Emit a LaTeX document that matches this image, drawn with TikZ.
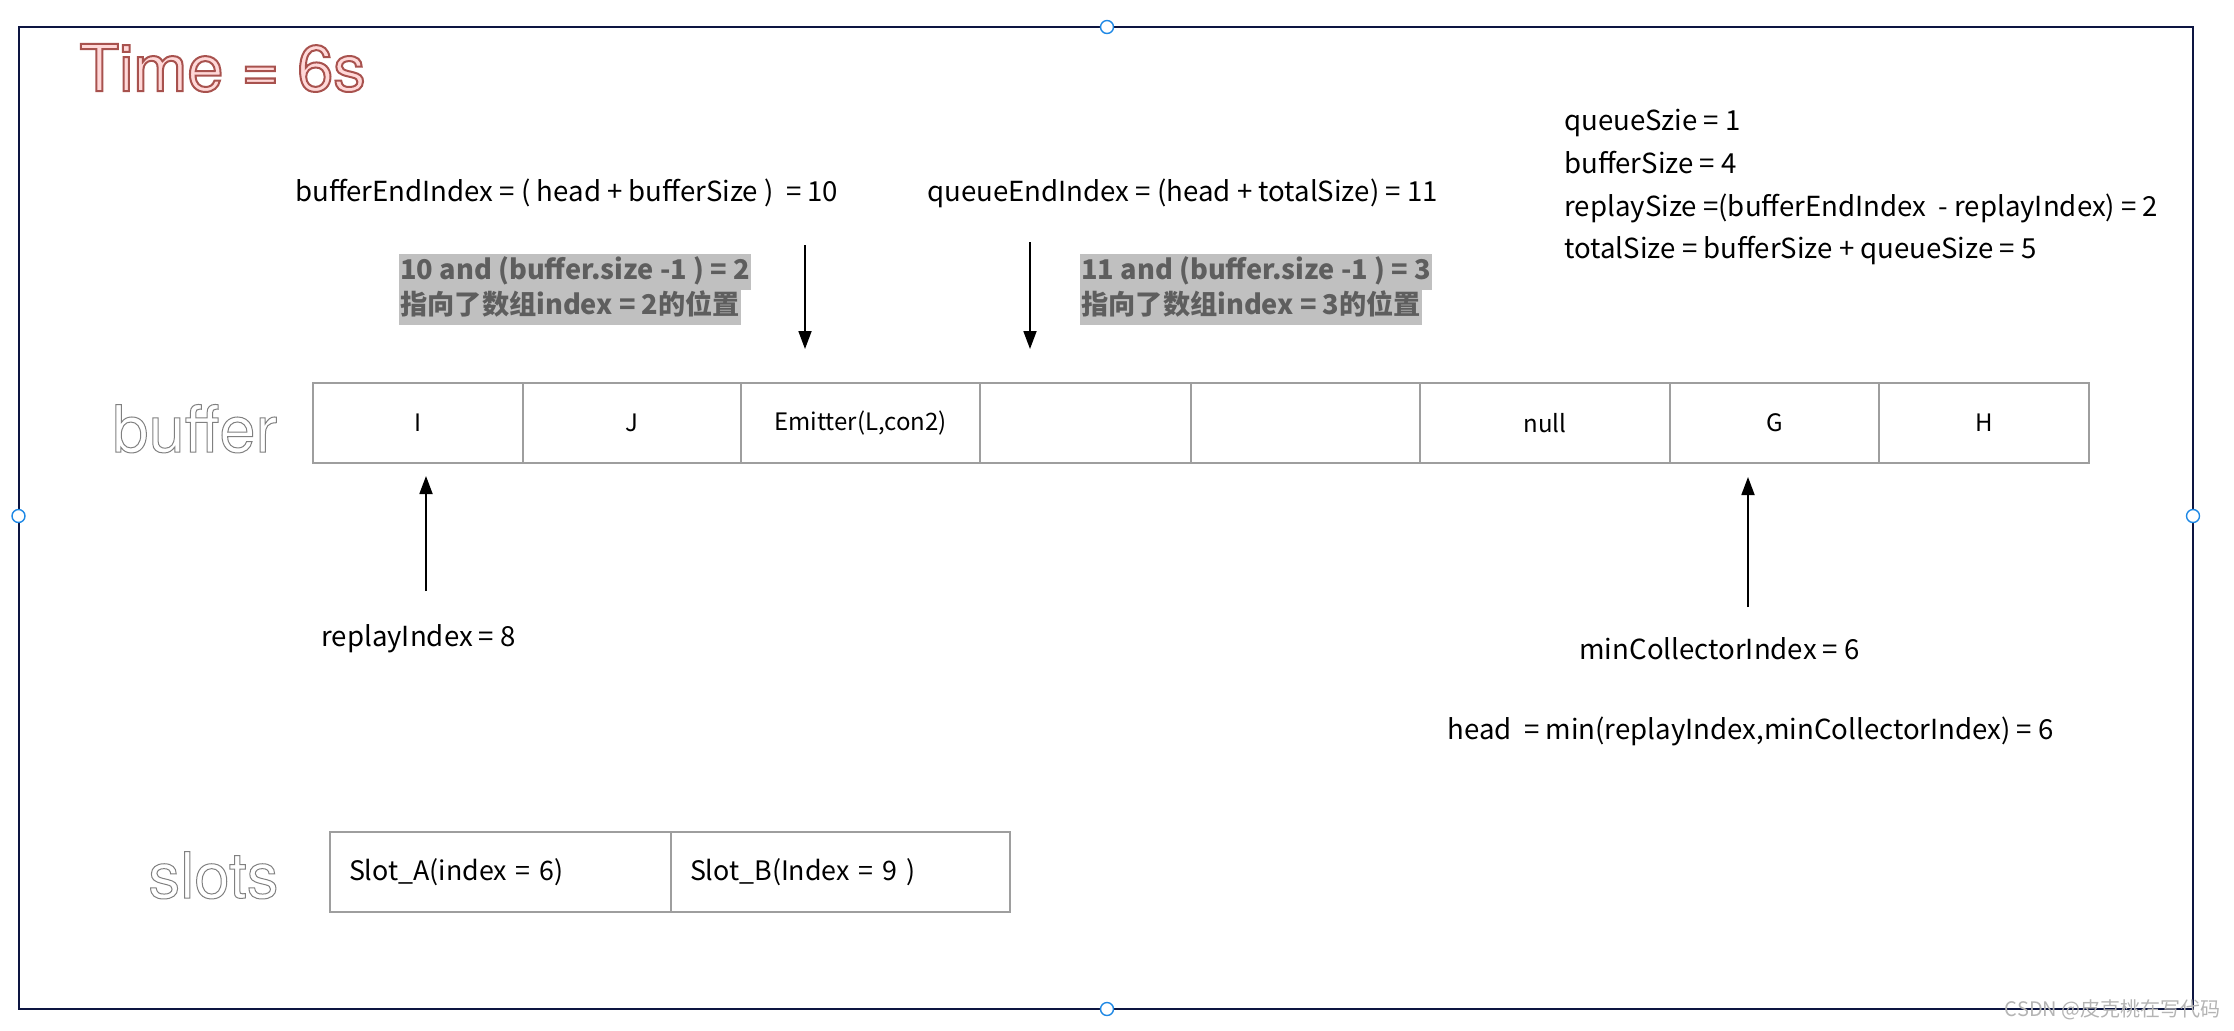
\documentclass[tikz,border=0pt]{standalone}
\usepackage{fontspec}
\setmainfont{Noto Sans CJK SC}
\newfontfamily\helv{TeX Gyre Heros}
\usetikzlibrary{arrows.meta}
\definecolor{frameblue}{HTML}{0D1541}
\definecolor{cellgray}{HTML}{9E9E9E}
\definecolor{hlgray}{HTML}{C0C0C0}
\definecolor{hltext}{HTML}{5E5E5E}
\definecolor{timefill}{HTML}{FFD8D8}
\definecolor{handle}{HTML}{1E88E5}
\definecolor{wmgray}{HTML}{B4B4B4}
\newcommand\olred[1]{{\color{timefill}\special{pdf:literal 2 Tr 1 w 0.659 0.322 0.306 RG}#1\special{pdf:literal 0 Tr}}}
\newcommand\olgray[1]{{\special{pdf:literal 1 Tr 0.5 w 0.5 0.5 0.5 RG}#1\special{pdf:literal 0 Tr}}}
\begin{document}
\begin{tikzpicture}[x=0.5pt,y=-0.5pt,
  lbl/.style={font=\fontsize{13.8}{17}\selectfont, inner sep=0pt, anchor=mid west},
  cell/.style={draw=cellgray, line width=0.6pt, minimum height=40pt, inner sep=0pt, font=\fontsize{12}{15}\selectfont},
  slotcell/.style={cell, font=\fontsize{13.4}{16}\selectfont, inner xsep=9.5pt, align=left},
  hl/.style={fill=hlgray, text=hltext, font=\bfseries\fontsize{13.6}{17}\selectfont, inner xsep=0.5pt, inner ysep=0pt, anchor=north west, text height=12.5pt, text depth=5.25pt},
  arr/.style={-{Triangle[length=9pt,width=6.5pt]}, line width=0.9pt},
  hnd/.style={circle, draw=handle, fill=white, line width=0.7pt, minimum size=6.5pt, inner sep=0pt}]
\useasboundingbox (0,0) rectangle (2234,1030);
\draw[frameblue, line width=1pt] (18.5,27) rectangle (2193,1009);

% buffer cells
\node[cell, minimum width=105pt]   (c1) at (418,423) {I};
\node[cell, minimum width=109pt]   (c2) at (632,423) {J};
\node[cell, minimum width=119.5pt] (c3) at (860.5,423) {Emitter(L,con2)};
\node[cell, minimum width=105.5pt] (c4) at (1085.5,423) {};
\node[cell, minimum width=114.5pt] (c5) at (1305.5,423) {};
\node[cell, minimum width=125pt]   (c6) at (1545,423) {null};
\node[cell, minimum width=104.5pt] (c7) at (1774.5,423) {G};
\node[cell, minimum width=105pt]   (c8) at (1984,423) {H};

% slots
\node[slotcell, text width=151.5pt] (s1) at (500.5,872) {Slot\_A(index = 6)};
\node[slotcell, text width=150.5pt] (s2) at (840.5,872) {Slot\_B(Index = 9 )};

% labels
\node[lbl] (bend) at (295,196) {bufferEndIndex = ( head + bufferSize )\ \ = 10};
\node[lbl] (qend) at (927,196) {queueEndIndex = (head + totalSize) = 11};
\node[lbl] (r1) at (1564,125) {queueSzie = 1};
\node[lbl] (r2) at (1564,168) {bufferSize = 4};
\node[lbl] (r3) at (1564,211) {replaySize =(bufferEndIndex\ \ - replayIndex) = 2};
\node[lbl] (r4) at (1564,253) {totalSize = bufferSize + queueSize = 5};
\node[lbl] (rpi) at (321,641) {replayIndex = 8};
\node[lbl] (mci) at (1579,654) {minCollectorIndex = 6};
\node[lbl] (hd) at (1447,734) {head\ \ = min(replayIndex,minCollectorIndex) = 6};

% highlighted notes
\node[hl] (g1a) at (399,254) {10 and (buffer.size -1 ) = 2};
\node[hl] (g1b) at (399,289.5) {指向了数组index = 2的位置};
\node[hl] (g2a) at (1080,254) {11 and (buffer.size -1 ) = 3};
\node[hl] (g2b) at (1080,289.5) {指向了数组index = 3的位置};

% arrows
\coordinate (a1s) at (805,245);  \coordinate (a1e) at (805,349);
\coordinate (a2s) at (1030,242); \coordinate (a2e) at (1030,349);
\coordinate (a3s) at (426,591);  \coordinate (a3e) at (426,476);
\coordinate (a4s) at (1748,607); \coordinate (a4e) at (1748,477);
\draw[arr] (a1s) -- (a1e);
\draw[arr] (a2s) -- (a2e);
\draw[arr] (a3s) -- (a3e);
\draw[arr] (a4s) -- (a4e);

% selection handles
\node[hnd] (h1) at (1107,27) {};
\node[hnd] (h2) at (18.5,516) {};
\node[hnd] (h3) at (2193,516) {};
\node[hnd] (h4) at (1107,1009) {};

% watermark
\node[font=\fontsize{10}{12}\selectfont, text=wmgray, inner sep=0pt, anchor=mid east] (wm) at (2221,1011) {CSDN @皮克桃在写代码};

% outlined titles
\node[font=\helv\fontsize{32.4}{36}\selectfont, inner sep=0pt, anchor=base west] (time) at (79,91) {\olred{Time = 6s}};
\node[font=\helv\fontsize{32.5}{36}\selectfont, inner sep=0pt, anchor=base west] (buf) at (112,452) {\olgray{buffer}};
\node[font=\helv\fontsize{31.8}{36}\selectfont, inner sep=0pt, anchor=base west] (slt) at (148,898) {\olgray{slots}};
\end{tikzpicture}
\end{document}
